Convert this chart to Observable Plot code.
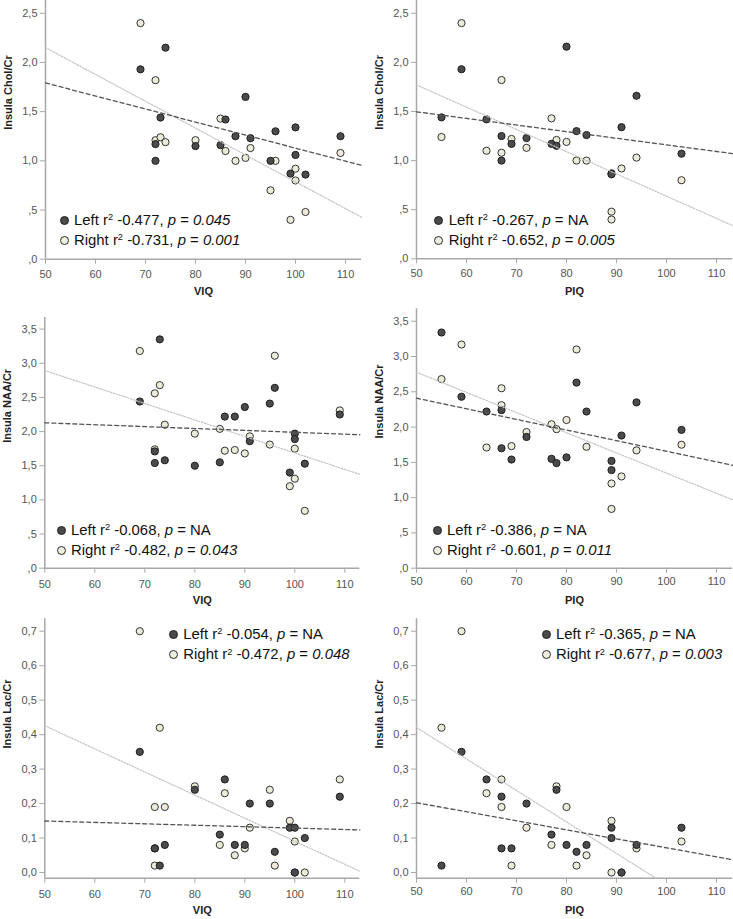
<!DOCTYPE html>
<html><head><meta charset="utf-8">
<script src="https://cdn.jsdelivr.net/npm/d3@7"></script>
<script src="https://cdn.jsdelivr.net/npm/@observablehq/plot@0.6"></script>
<style>
html,body{margin:0;padding:0;background:#fff;}
#wrap{position:relative;width:733px;height:919px;overflow:hidden;font-family:"Liberation Sans",Arial,sans-serif;}
.cell{position:absolute;}
.legend{position:absolute;font-size:14.9px;line-height:18.3px;color:#111;white-space:nowrap;}
.legend .mk{display:inline-block;width:9px;height:9px;border-radius:50%;box-sizing:border-box;margin-right:5.5px;}
.legend .mk.l{background:#4b4b4b;border:1px solid #1e1e1e;}
.legend .mk.r{background:#efeee0;border:1.6px solid #2a2a2a;}
.legend sup{font-size:0.62em;vertical-align:0;position:relative;top:-0.5em;}
</style></head><body><div id="wrap"></div>
<script>
// ---------- data ----------
const viqX18 = [69,72,72,73,74,80,85,86,88,90,91,95,96,99,100,100,102,109];
const piqX17 = [55,59,64,67,67,69,72,77,78,80,82,84,89,89,91,94,103];

// Insula Chol/Cr vs VIQ
const cholViqLeftX  = viqX18;
const cholViqLeftY  = [1.93,1.17,1.00,1.44,2.15,1.15,1.16,1.42,1.25,1.65,1.23,1.00,1.30,0.87,1.34,1.06,0.86,1.25];
const cholViqRightX = viqX18;
const cholViqRightY = [2.40,1.82,1.21,1.24,1.19,1.21,1.43,1.10,1.00,1.03,1.13,0.70,1.00,0.40,0.92,0.80,0.48,1.08];
// Insula Chol/Cr vs PIQ
const cholPiqLeftX  = piqX17;
const cholPiqLeftY  = [1.44,1.93,1.42,1.25,1.00,1.17,1.23,1.17,1.15,2.16,1.30,1.26,0.87,0.86,1.34,1.66,1.07];
const cholPiqRightX = piqX17;
const cholPiqRightY = [1.24,2.40,1.10,1.82,1.08,1.22,1.13,1.43,1.21,1.19,1.00,1.00,0.48,0.40,0.92,1.03,0.80];
// Insula NAA/Cr vs VIQ
const naaViqLeftX  = viqX18;
const naaViqLeftY  = [2.44,1.71,1.54,3.35,1.58,1.50,1.55,2.22,2.22,2.36,1.86,2.41,2.64,1.40,1.97,1.89,1.53,2.25];
const naaViqRightX = viqX18;
const naaViqRightY = [3.18,2.56,1.74,2.68,2.10,1.97,2.04,1.72,1.73,1.68,1.93,1.81,3.11,1.20,1.75,1.31,0.84,2.31];
// Insula NAA/Cr vs PIQ
const naaPiqLeftX  = piqX17;
const naaPiqLeftY  = [3.34,2.43,2.22,2.24,1.70,1.54,1.86,1.55,1.49,1.57,2.63,2.22,1.52,1.39,1.88,2.35,1.96];
const naaPiqRightX = piqX17;
const naaPiqRightY = [2.68,3.17,1.71,2.55,2.31,1.73,1.93,2.04,1.97,2.10,3.10,1.72,1.20,0.84,1.30,1.67,1.75];
// Insula Lac/Cr vs VIQ
const lacViqLeftX  = viqX18;
const lacViqLeftY  = [0.35,0.07,0.07,0.02,0.08,0.24,0.11,0.27,0.08,0.08,0.20,0.20,0.06,0.13,0.13,0.00,0.10,0.22];
const lacViqRightX = viqX18;
const lacViqRightY = [0.70,0.19,0.02,0.42,0.19,0.25,0.08,0.23,0.05,0.07,0.13,0.24,0.02,0.15,0.09,0.00,0.00,0.27];
// Insula Lac/Cr vs PIQ
const lacPiqLeftX  = piqX17;
const lacPiqLeftY  = [0.02,0.35,0.27,0.22,0.07,0.07,0.20,0.11,0.24,0.08,0.06,0.08,0.13,0.10,0.00,0.08,0.13];
const lacPiqRightX = piqX17;
const lacPiqRightY = [0.42,0.70,0.23,0.27,0.19,0.02,0.13,0.08,0.25,0.19,0.02,0.05,0.15,0.00,0.00,0.07,0.09];

// axis labels and ticks
const yTitles = ["Insula Chol/Cr","Insula Chol/Cr","Insula NAA/Cr","Insula NAA/Cr","Insula Lac/Cr","Insula Lac/Cr"];
const xTitles = ["VIQ","PIQ","VIQ","PIQ","VIQ","PIQ"];
const xTickValues = [50,60,70,80,90,100,110];
const xTickLabels = ["50","60","70","80","90","100","110"];
const cholTickValues = [0,0.5,1,1.5,2,2.5];
const cholTickLabels = [",0",",5","1,0","1,5","2,0","2,5"];
const naaTickValues = [0,0.5,1,1.5,2,2.5,3,3.5];
const naaTickLabels = [",0",",5","1,0","1,5","2,0","2,5","3,0","3,5"];
const lacTickValues = [0,0.1,0.2,0.3,0.4,0.5,0.6,0.7];
const lacTickLabels = ["0,0","0,1","0,2","0,3","0,4","0,5","0,6","0,7"];

// legend statistics
const leftR2  = ["-0.477","-0.267","-0.068","-0.386","-0.054","-0.365"];
const leftP   = ["0.045","NA","NA","NA","NA","NA"];
const rightR2 = ["-0.731","-0.652","-0.482","-0.601","-0.472","-0.677"];
const rightP  = ["0.001","0.005","0.043","0.011","0.048","0.003"];

// ---------- layout ----------
const series = [
  [cholViqLeftX, cholViqLeftY, cholViqRightX, cholViqRightY],
  [cholPiqLeftX, cholPiqLeftY, cholPiqRightX, cholPiqRightY],
  [naaViqLeftX, naaViqLeftY, naaViqRightX, naaViqRightY],
  [naaPiqLeftX, naaPiqLeftY, naaPiqRightX, naaPiqRightY],
  [lacViqLeftX, lacViqLeftY, lacViqRightX, lacViqRightY],
  [lacPiqLeftX, lacPiqLeftY, lacPiqRightX, lacPiqRightY]
];
const yTicksFor = [
  [cholTickValues, cholTickLabels],[cholTickValues, cholTickLabels],
  [naaTickValues, naaTickLabels],[naaTickValues, naaTickLabels],
  [lacTickValues, lacTickLabels],[lacTickValues, lacTickLabels]
];
// cell: [left, top, width, height]; frame: [left, right, top, bottom] (page coords)
const layout = [
  {cell:[0,0,366,300],     frame:[45,361,0,258.7],        xd:[50,113.2], yd:[0,2.63],        tdy:15, leg:[64,225]},
  {cell:[366,0,367,300],   frame:[416,732,0,258.3],       xd:[50,113.2], yd:[0,2.63],        tdy:15, leg:[438.7,225]},
  {cell:[0,300,366,310],   frame:[44.3,359.3,317,567.7],  xd:[50,113],   yd:[0,3.67],        tdy:16, leg:[61,535]},
  {cell:[366,300,367,310], frame:[416,732,308.3,567.7],   xd:[50,113.2], yd:[0,3.676],       tdy:13, leg:[437,535]},
  {cell:[0,610,366,309],   frame:[44.3,359.3,618.3,877.7],xd:[50,113],   yd:[-0.0165,0.736], tdy:16, leg:[173.3,639.3]},
  {cell:[366,610,367,309], frame:[416,732,618.3,877.7],   xd:[50,113.2], yd:[-0.0165,0.736], tdy:13, leg:[546,639.3]}
];

function fit(xs, ys) {
  const mx = d3.mean(xs), my = d3.mean(ys);
  let sxy = 0, sxx = 0;
  xs.forEach((x, i) => { sxy += (x - mx) * (ys[i] - my); sxx += (x - mx) ** 2; });
  const b = sxy / sxx;
  return {f: x => my + b * (x - mx), b, a: my - b * mx};
}
// fitted line across the x domain, clipped to the y domain
function fitLine(xs, ys, xd, yd) {
  const {f, b, a} = fit(xs, ys);
  let x0 = xd[0], x1 = xd[1];
  if (b !== 0) {
    const xa = (yd[0] - a) / b, xb = (yd[1] - a) / b;
    const lo = Math.min(xa, xb), hi = Math.max(xa, xb);
    x0 = Math.max(x0, lo); x1 = Math.min(x1, hi);
  }
  return [x0, x1].map(x => ({x, y: f(x)}));
}

const wrap = document.getElementById("wrap");
const FONT = "'Liberation Sans', Arial, Helvetica, sans-serif";
const AXIS = "#a8a8a8";

layout.forEach((L, k) => {
  const [lx, ly, rx, ry] = series[k];
  const left = lx.map((x, i) => ({x, y: ly[i]}));
  const right = rx.map((x, i) => ({x, y: ry[i]}));
  const lineL = fitLine(lx, ly, L.xd, L.yd);
  const lineR = fitLine(rx, ry, L.xd, L.yd);
  const [cl, ct, cw, ch] = L.cell;
  const [fl, fr, ft, fb] = L.frame;
  const [yTv, yTl] = yTicksFor[k];
  const yMap = new Map(yTv.map((v, i) => [v, yTl[i]]));
  const xMap = new Map(xTickValues.map((v, i) => [v, xTickLabels[i]]));
  // one pixel expressed in data units (for tick length)
  const xPx = (L.xd[1] - L.xd[0]) / (fr - fl);
  const yPx = (L.yd[1] - L.yd[0]) / (fb - ft);

  const chart = Plot.plot({
    width: cw, height: ch,
    marginLeft: fl - cl, marginRight: cl + cw - fr,
    marginTop: ft - ct, marginBottom: ct + ch - fb,
    style: {fontFamily: FONT, fontSize: "11px", background: "transparent", overflow: "visible"},
    x: {domain: L.xd, axis: null},
    y: {domain: L.yd, axis: null},
    marks: [
      // axis lines
      Plot.ruleX([L.xd[0]], {stroke: AXIS, strokeWidth: 1.5}),
      Plot.ruleY([L.yd[0]], {stroke: AXIS, strokeWidth: 1.5}),
      // y ticks + labels
      Plot.ruleY(yTv, {y: d => d, x1: L.xd[0] - 5 * xPx, x2: L.xd[0], stroke: AXIS}),
      Plot.text(yTv, {x: L.xd[0], y: d => d, text: d => yMap.get(d), textAnchor: "end", dx: -8, fill: "#555", fontSize: 11}),
      // x ticks + labels
      Plot.ruleX(xTickValues, {x: d => d, y1: L.yd[0] - 5 * yPx, y2: L.yd[0], stroke: AXIS}),
      Plot.text(xTickValues, {x: d => d, y: L.yd[0], text: d => xMap.get(d), dy: L.tdy, fill: "#555", fontSize: 11}),
      // axis titles
      Plot.text([xTitles[k]], {text: d => d, frameAnchor: "bottom", dy: 36, fontWeight: "bold", fontSize: 11, fill: "#222"}),
      Plot.text([yTitles[k]], {text: d => d, frameAnchor: "left", dx: -37, rotate: -90, fontWeight: "bold", fontSize: 11, fill: "#222"}),
      // points (right first, left drawn on top)
      Plot.dot(right, {x: "x", y: "y", r: 3.6, fill: "#ecebd9", stroke: "#333", strokeWidth: 1}),
      Plot.dot(left, {x: "x", y: "y", r: 3.6, fill: "#4b4b4b", stroke: "#1e1e1e", strokeWidth: 1}),
      // fit lines
      Plot.line(lineR, {x: "x", y: "y", stroke: "#c4c4c4", strokeWidth: 1.2, strokeDasharray: "1.5,1.5"}),
      Plot.line(lineL, {x: "x", y: "y", stroke: "#555", strokeWidth: 1.3, strokeDasharray: "4,3"})
    ]
  });
  const cell = document.createElement("div");
  cell.className = "cell";
  cell.style.left = cl + "px"; cell.style.top = ct + "px";
  cell.appendChild(chart);
  wrap.appendChild(cell);

  const leg = document.createElement("div");
  leg.className = "legend";
  leg.style.left = (L.leg[0] - 4.5) + "px";
  leg.style.top = (L.leg[1] - 14.2) + "px";
  const pv = v => v === "NA" ? "NA" : `<i>${v}</i>`;
  leg.innerHTML =
    `<div><span class="mk l"></span>Left r<sup>2</sup> ${leftR2[k]}, <i>p</i> = ${pv(leftP[k])}</div>` +
    `<div><span class="mk r"></span>Right r<sup>2</sup> ${rightR2[k]}, <i>p</i> = ${pv(rightP[k])}</div>`;
  wrap.appendChild(leg);
});
</script></body></html>
